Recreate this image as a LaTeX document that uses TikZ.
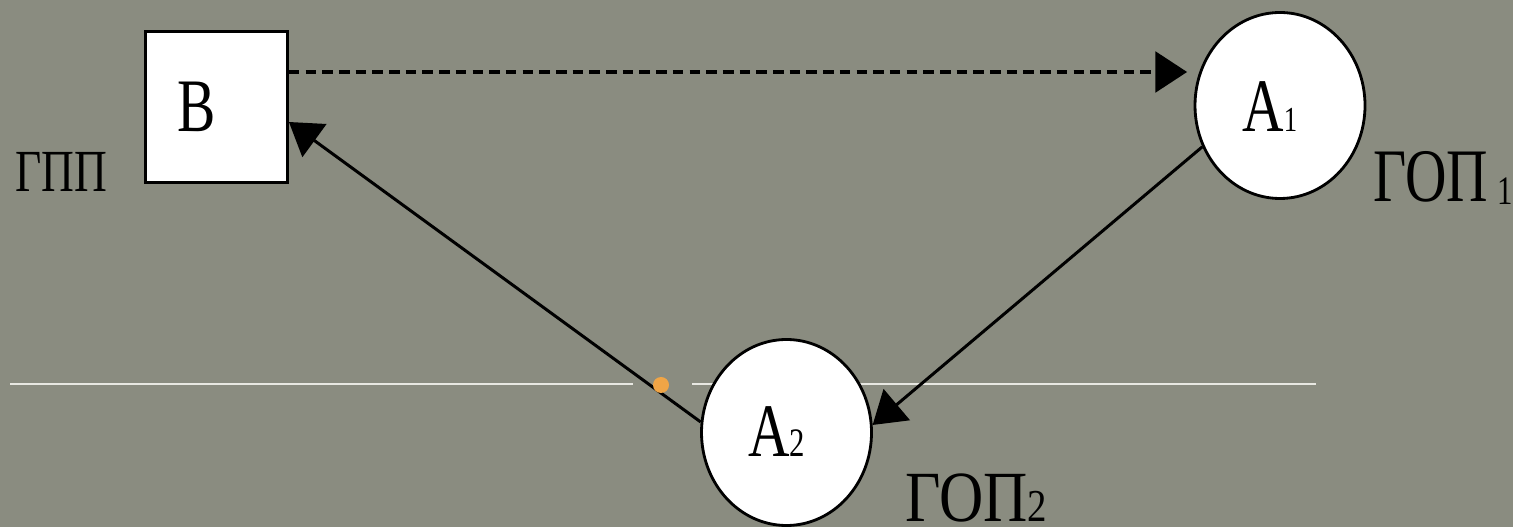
\documentclass[tikz,border=0pt]{standalone}
\usepackage{fontspec}
\setmainfont{Liberation Serif}
\usetikzlibrary{arrows.meta,shapes.geometric}
\definecolor{slate}{RGB}{138,140,128}
\definecolor{rulecol}{RGB}{232,232,226}
\definecolor{dotcol}{RGB}{240,165,70}
% narrow serif lettering and a quick size switch
\newcommand\condensed[1]{\scalebox{0.76}[1]{#1}}
\newcommand\fs[1]{\fontsize{#1}{#1}\selectfont}

\begin{document}
\begin{tikzpicture}[
  stage/.style={draw=black, fill=white, line width=1.6pt, inner sep=0pt},
  boxnode/.style={stage, rectangle, minimum width=2.84cm, minimum height=3.02cm},
  ovalnode/.style={stage, ellipse, minimum width=3.40cm, minimum height=3.72cm},
  lbl/.style={anchor=base west, inner sep=0pt, text=black},
  link/.style={line width=1.7pt, -{Triangle[length=18pt,width=23pt]}},
  hint/.style={link, line width=2.2pt, dash pattern=on 6pt off 3.5pt},
  guide/.style={draw=rulecol, line width=1.2pt},
]
% canvas
\fill[slate] (0,0) rectangle (30.26,10.54);
\useasboundingbox (0,0) rectangle (30.26,10.54);

% horizontal guide line, broken near the dot
\coordinate (g1) at (0.2,2.86);
\coordinate (g2) at (12.66,2.86);
\coordinate (g3) at (13.84,2.86);
\coordinate (g4) at (26.32,2.86);
\draw[guide] (g1) -- (g2);
\draw[guide] (g3) -- (g4);

% the three states
\node[boxnode]  (nB)  at (4.33,8.40) {};
\node[ovalnode] (nA1) at (25.60,8.43) {};
\node[ovalnode] (nA2) at (15.73,1.89) {};

% transitions
\draw[hint, shorten >=0.13cm] ([yshift=0.7cm]nB.east) coordinate (dashStart) -- (dashStart -| nA1.west);
\draw[link] (nA1.208) -- (nA2.5);
\draw[link] (nA2.173) -- ([yshift=-0.3cm]nB.east);

% marker
\fill[dotcol] (13.22,2.84) circle (0.16);

% lettering
\node[lbl] (tB)    at (3.54,7.90)  {\fs{43}\condensed{B}};
\node[lbl] (tA1)   at (24.84,7.90) {\condensed{\fs{43}A\fs{20}1}};
\node[lbl] (tA2)   at (14.96,1.40) {\condensed{\fs{43}A\fs{23}2}};
\node[lbl] (tGPP)  at (0.30,6.70)  {\fs{34}\condensed{ГПП}};
\node[lbl] (tGOP1) at (27.46,6.50) {\condensed{\fs{43}ГОП\,\raisebox{-0.06cm}{\fs{23}1}}};
\node[lbl] (tGOP2) at (18.10,0.10) {\scalebox{0.85}[1]{\fs{41}ГОП\fs{26}2}};
\end{tikzpicture}
\end{document}
